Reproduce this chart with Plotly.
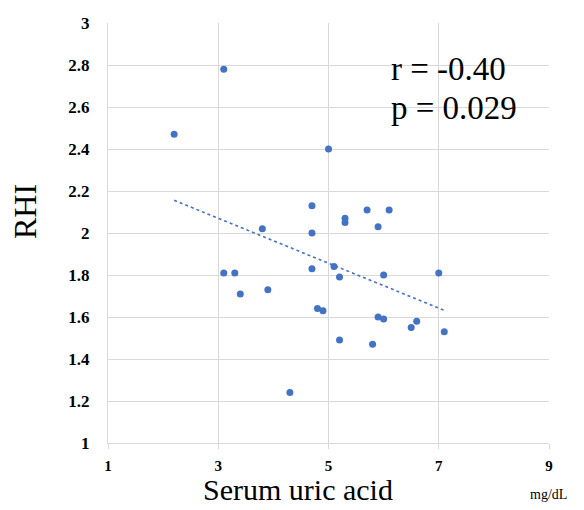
import numpy as np
import plotly.graph_objects as go

# Serum uric acid (mg/dL) and RHI values
uric_acid = [2.2, 3.1, 5.0, 4.7, 5.3, 5.3, 5.7, 6.1, 5.9, 3.8,
             4.7, 3.1, 3.3, 3.4, 3.9, 4.7, 5.1, 5.2, 6.0, 7.0,
             4.8, 4.9, 5.9, 6.0, 6.5, 6.6, 7.1, 5.2, 5.8, 4.3]
rhi = [2.47, 2.78, 2.40, 2.13, 2.07, 2.05, 2.11, 2.11, 2.03, 2.02,
       2.00, 1.81, 1.81, 1.71, 1.73, 1.83, 1.84, 1.79, 1.80, 1.81,
       1.64, 1.63, 1.60, 1.59, 1.55, 1.58, 1.53, 1.49, 1.47, 1.24]

x_ticks = [1, 3, 5, 7, 9]
y_ticks = [1, 1.2, 1.4, 1.6, 1.8, 2, 2.2, 2.4, 2.6, 2.8, 3]
stats_lines = ["r = -0.40", "p = 0.029"]

x_title = "Serum uric acid"
y_title = "RHI"
unit = "mg/dL"

BLUE = "#4472C4"
GRID = "#D9D9D9"
SERIF = "Liberation Serif, Times New Roman, serif"

# figure geometry (page has an 8px body margin)
OFF = 8
W, H = 576, 502
ML, MR, MT, MB = 100, 35, 15, 67
PW, PH = W - ML - MR, H - MT - MB


def px_to_paper(px, py):
    """Convert a page pixel position to paper coordinates."""
    fx, fy = px - OFF, py - OFF
    return (fx - ML) / PW, (H - MB - fy) / PH


xa = np.array(uric_acid)
ya = np.array(rhi)
slope, intercept = np.polyfit(xa, ya, 1)
x_fit = np.array([xa.min(), xa.max()])
y_fit = slope * x_fit + intercept

fig = go.Figure()
fig.add_trace(go.Scatter(x=x_fit, y=y_fit, mode="lines",
                         line=dict(color=BLUE, width=1.6, dash="dot"),
                         hoverinfo="skip", showlegend=False))
fig.add_trace(go.Scatter(x=uric_acid, y=rhi, mode="markers",
                         marker=dict(color=BLUE, size=7),
                         showlegend=False))

fig.update_layout(
    width=W, height=H,
    margin=dict(l=ML, r=MR, t=MT, b=MB, autoexpand=False),
    paper_bgcolor="white", plot_bgcolor="white",
    font=dict(family=SERIF, color="black"),
    xaxis=dict(range=[1, 9], tickvals=x_ticks, ticktext=[f"<b>{v}</b>" for v in x_ticks],
               showgrid=True, gridcolor=GRID, gridwidth=1,
               showline=True, linecolor=GRID, linewidth=1,
               ticks="outside", ticklen=5, tickcolor=GRID,
               zeroline=False, tickfont=dict(size=15, family=SERIF),
               ticklabelstandoff=4),
    yaxis=dict(range=[1, 3], tickvals=y_ticks,
               ticktext=[f"<b>{v:g}</b>" for v in y_ticks],
               showgrid=True, gridcolor=GRID, gridwidth=1,
               showline=True, linecolor=GRID, linewidth=1,
               ticks="", zeroline=False,
               tickfont=dict(size=17, family=SERIF),
               ticklabelstandoff=14),
)

for text, py in zip(stats_lines, [69, 108]):
    ax, ay = px_to_paper(389, py)
    fig.add_annotation(text=text, xref="paper", yref="paper", x=ax, y=ay,
                       xanchor="left", yanchor="middle", showarrow=False,
                       font=dict(family=SERIF, size=33, color="black"))

# axis titles and unit
ax, ay = px_to_paper(298, 489)
fig.add_annotation(text=x_title, xref="paper", yref="paper", x=ax, y=ay,
                   xanchor="center", yanchor="middle", showarrow=False,
                   font=dict(family=SERIF, size=30, color="black"))
ax, ay = px_to_paper(25.5, 211.5)
fig.add_annotation(text=y_title, xref="paper", yref="paper", x=ax, y=ay,
                   xanchor="center", yanchor="middle", showarrow=False, textangle=-90,
                   font=dict(family=SERIF, size=32, color="black"))
ax, ay = px_to_paper(548, 494)
fig.add_annotation(text=unit, xref="paper", yref="paper", x=ax, y=ay,
                   xanchor="center", yanchor="middle", showarrow=False,
                   font=dict(family=SERIF, size=14, color="black"))

fig.write_html("out.html")
